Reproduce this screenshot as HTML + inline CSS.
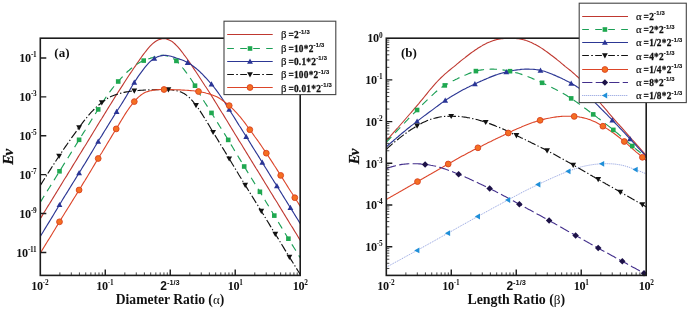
<!DOCTYPE html>
<html><head><meta charset="utf-8"><title>Ev plots</title>
<style>html,body{margin:0;padding:0;background:#fff}svg{display:block}</style></head>
<body>
<svg width="689" height="309" viewBox="0 0 689 309" style="display:block">
<rect width="689" height="309" fill="#fff"/>
<defs>
<clipPath id="ca"><rect x="40.3" y="37.7" width="260.5" height="237.7"/></clipPath>
<clipPath id="cb"><rect x="386.3" y="37.7" width="260.50000000000006" height="237.7"/></clipPath>
</defs>
<path d="M40.3 218.7 L41.6 216.6 L42.9 214.4 L44.2 212.3 L45.5 210.2 L46.8 208.0 L48.1 205.9 L49.5 203.8 L50.8 201.6 L52.1 199.5 L53.4 197.4 L54.7 195.2 L56.0 193.1 L57.3 191.0 L58.6 188.9 L59.9 186.7 L61.2 184.6 L62.5 182.5 L63.8 180.3 L65.1 178.2 L66.5 176.1 L67.8 173.9 L69.1 171.8 L70.4 169.7 L71.7 167.6 L73.0 165.4 L74.3 163.3 L75.6 161.2 L76.9 159.1 L78.2 156.9 L79.5 154.8 L80.8 152.7 L82.1 150.6 L83.4 148.4 L84.8 146.3 L86.1 144.2 L87.4 142.0 L88.7 139.9 L90.0 137.7 L91.3 135.6 L92.6 133.5 L93.9 131.3 L95.2 129.2 L96.5 127.0 L97.8 124.9 L99.1 122.8 L100.4 120.6 L101.8 118.5 L103.1 116.4 L104.4 114.2 L105.7 112.1 L107.0 110.0 L108.3 107.9 L109.6 105.8 L110.9 103.7 L112.2 101.6 L113.5 99.5 L114.8 97.4 L116.1 95.3 L117.4 93.2 L118.8 91.1 L120.1 89.1 L121.4 87.1 L122.7 85.1 L124.0 83.0 L125.3 81.0 L126.6 79.0 L127.9 77.0 L129.2 75.0 L130.5 73.1 L131.8 71.2 L133.1 69.2 L134.4 67.3 L135.8 65.4 L137.1 63.4 L138.4 61.5 L139.7 59.6 L141.0 57.7 L142.3 55.9 L143.6 54.2 L144.9 52.5 L146.2 50.8 L147.5 49.2 L148.8 47.6 L150.1 46.2 L151.4 44.8 L152.7 43.6 L154.1 42.5 L155.4 41.5 L156.7 40.7 L158.0 40.1 L159.3 39.5 L160.6 39.1 L161.9 38.7 L163.2 38.5 L164.5 38.6 L165.8 38.8 L167.1 39.2 L168.4 39.7 L169.7 40.3 L171.1 40.9 L172.4 41.8 L173.7 42.8 L175.0 44.0 L176.3 45.3 L177.6 46.6 L178.9 48.1 L180.2 49.7 L181.5 51.3 L182.8 53.0 L184.1 54.8 L185.4 56.5 L186.7 58.3 L188.1 60.2 L189.4 62.1 L190.7 64.0 L192.0 66.0 L193.3 67.9 L194.6 69.9 L195.9 71.8 L197.2 73.7 L198.5 75.7 L199.8 77.7 L201.1 79.7 L202.4 81.7 L203.7 83.7 L205.0 85.7 L206.4 87.7 L207.7 89.8 L209.0 91.8 L210.3 93.9 L211.6 95.9 L212.9 98.0 L214.2 100.1 L215.5 102.2 L216.8 104.3 L218.1 106.5 L219.4 108.6 L220.7 110.7 L222.0 112.8 L223.4 114.9 L224.7 117.1 L226.0 119.2 L227.3 121.3 L228.6 123.5 L229.9 125.6 L231.2 127.7 L232.5 129.9 L233.8 132.0 L235.1 134.2 L236.4 136.3 L237.7 138.4 L239.0 140.6 L240.4 142.7 L241.7 144.8 L243.0 147.0 L244.3 149.1 L245.6 151.2 L246.9 153.4 L248.2 155.5 L249.5 157.6 L250.8 159.7 L252.1 161.9 L253.4 164.0 L254.7 166.1 L256.0 168.3 L257.4 170.4 L258.7 172.5 L260.0 174.6 L261.3 176.8 L262.6 178.9 L263.9 181.0 L265.2 183.2 L266.5 185.3 L267.8 187.4 L269.1 189.5 L270.4 191.7 L271.7 193.8 L273.0 195.9 L274.3 198.1 L275.7 200.2 L277.0 202.3 L278.3 204.5 L279.6 206.6 L280.9 208.7 L282.2 210.9 L283.5 213.0 L284.8 215.1 L286.1 217.3 L287.4 219.4 L288.7 221.5 L290.0 223.7 L291.3 225.8 L292.7 227.9 L294.0 230.1 L295.3 232.2 L296.6 234.3 L297.9 236.5 L299.2 238.6 L300.5 240.7" fill="none" stroke="#bf3830" stroke-width="1.1" clip-path="url(#ca)"/>
<path d="M40.3 202.3 L41.6 200.1 L42.9 198.0 L44.2 195.9 L45.5 193.8 L46.8 191.7 L48.1 189.6 L49.5 187.5 L50.8 185.4 L52.1 183.3 L53.4 181.2 L54.7 179.1 L56.0 177.0 L57.3 174.9 L58.6 172.8 L59.9 170.7 L61.2 168.6 L62.5 166.5 L63.8 164.4 L65.1 162.3 L66.5 160.2 L67.8 158.1 L69.1 156.0 L70.4 153.9 L71.7 151.8 L73.0 149.7 L74.3 147.6 L75.6 145.5 L76.9 143.4 L78.2 141.3 L79.5 139.2 L80.8 137.1 L82.1 135.0 L83.4 132.9 L84.8 130.8 L86.1 128.7 L87.4 126.6 L88.7 124.5 L90.0 122.4 L91.3 120.3 L92.6 118.2 L93.9 116.1 L95.2 114.1 L96.5 112.0 L97.8 110.0 L99.1 107.9 L100.4 105.8 L101.8 103.7 L103.1 101.6 L104.4 99.6 L105.7 97.6 L107.0 95.8 L108.3 93.9 L109.6 92.1 L110.9 90.4 L112.2 88.7 L113.5 87.0 L114.8 85.4 L116.1 83.8 L117.4 82.3 L118.8 80.8 L120.1 79.4 L121.4 77.9 L122.7 76.5 L124.0 75.1 L125.3 73.8 L126.6 72.5 L127.9 71.3 L129.2 70.2 L130.5 69.0 L131.8 68.0 L133.1 66.9 L134.4 65.9 L135.8 65.0 L137.1 64.1 L138.4 63.2 L139.7 62.5 L141.0 61.8 L142.3 61.2 L143.6 60.6 L144.9 60.1 L146.2 59.7 L147.5 59.2 L148.8 58.8 L150.1 58.4 L151.4 57.9 L152.7 57.5 L154.1 57.0 L155.4 56.5 L156.7 56.1 L158.0 55.9 L159.3 55.6 L160.6 55.4 L161.9 55.3 L163.2 55.3 L164.5 55.5 L165.8 55.7 L167.1 56.0 L168.4 56.3 L169.7 56.8 L171.1 57.5 L172.4 58.1 L173.7 58.9 L175.0 59.8 L176.3 60.8 L177.6 62.0 L178.9 63.4 L180.2 64.8 L181.5 66.3 L182.8 68.0 L184.1 69.6 L185.4 71.4 L186.7 73.1 L188.1 75.0 L189.4 76.8 L190.7 78.8 L192.0 80.8 L193.3 82.9 L194.6 85.0 L195.9 87.2 L197.2 89.5 L198.5 91.8 L199.8 94.1 L201.1 96.4 L202.4 98.6 L203.7 100.7 L205.0 102.8 L206.4 104.9 L207.7 106.9 L209.0 108.9 L210.3 111.0 L211.6 113.1 L212.9 115.2 L214.2 117.3 L215.5 119.4 L216.8 121.5 L218.1 123.6 L219.4 125.7 L220.7 127.8 L222.0 129.9 L223.4 132.0 L224.7 134.1 L226.0 136.3 L227.3 138.4 L228.6 140.5 L229.9 142.7 L231.2 144.9 L232.5 147.0 L233.8 149.2 L235.1 151.4 L236.4 153.6 L237.7 155.7 L239.0 157.9 L240.4 160.1 L241.7 162.3 L243.0 164.4 L244.3 166.6 L245.6 168.7 L246.9 170.9 L248.2 173.0 L249.5 175.1 L250.8 177.2 L252.1 179.3 L253.4 181.4 L254.7 183.5 L256.0 185.6 L257.4 187.7 L258.7 189.8 L260.0 191.9 L261.3 194.0 L262.6 196.2 L263.9 198.3 L265.2 200.5 L266.5 202.7 L267.8 204.8 L269.1 207.0 L270.4 209.2 L271.7 211.3 L273.0 213.5 L274.3 215.7 L275.7 217.8 L277.0 220.0 L278.3 222.1 L279.6 224.3 L280.9 226.4 L282.2 228.6 L283.5 230.7 L284.8 232.9 L286.1 235.0 L287.4 237.2 L288.7 239.3 L290.0 241.4 L291.3 243.5 L292.7 245.6 L294.0 247.7 L295.3 249.8 L296.6 251.9 L297.9 254.0 L299.2 256.1 L300.5 258.2" fill="none" stroke="#1c9f56" stroke-width="1.15" stroke-dasharray="7.5 5.5" clip-path="url(#ca)"/>
<path d="M40.3 236.5 L41.6 234.3 L42.9 232.2 L44.2 230.0 L45.5 227.9 L46.8 225.7 L48.1 223.6 L49.5 221.4 L50.8 219.3 L52.1 217.1 L53.4 215.0 L54.7 212.8 L56.0 210.6 L57.3 208.5 L58.6 206.3 L59.9 204.1 L61.2 202.0 L62.5 199.8 L63.8 197.6 L65.1 195.5 L66.5 193.4 L67.8 191.2 L69.1 189.1 L70.4 187.0 L71.7 184.9 L73.0 182.8 L74.3 180.7 L75.6 178.6 L76.9 176.5 L78.2 174.4 L79.5 172.3 L80.8 170.2 L82.1 168.0 L83.4 165.9 L84.8 163.7 L86.1 161.6 L87.4 159.4 L88.7 157.2 L90.0 155.0 L91.3 152.9 L92.6 150.7 L93.9 148.5 L95.2 146.3 L96.5 144.1 L97.8 142.0 L99.1 139.8 L100.4 137.7 L101.8 135.6 L103.1 133.4 L104.4 131.3 L105.7 129.2 L107.0 127.1 L108.3 125.0 L109.6 122.9 L110.9 120.8 L112.2 118.7 L113.5 116.6 L114.8 114.5 L116.1 112.4 L117.4 110.3 L118.8 108.3 L120.1 106.2 L121.4 104.2 L122.7 102.1 L124.0 100.0 L125.3 97.9 L126.6 95.7 L127.9 93.4 L129.2 91.1 L130.5 88.8 L131.8 86.5 L133.1 84.3 L134.4 82.2 L135.8 80.1 L137.1 78.1 L138.4 76.2 L139.7 74.4 L141.0 72.6 L142.3 70.8 L143.6 69.1 L144.9 67.4 L146.2 65.8 L147.5 64.3 L148.8 62.9 L150.1 61.6 L151.4 60.5 L152.7 59.5 L154.1 58.6 L155.4 57.9 L156.7 57.2 L158.0 56.6 L159.3 56.2 L160.6 55.9 L161.9 55.6 L163.2 55.4 L164.5 55.3 L165.8 55.3 L167.1 55.5 L168.4 55.7 L169.7 56.0 L171.1 56.3 L172.4 56.7 L173.7 57.1 L175.0 57.6 L176.3 58.1 L177.6 58.5 L178.9 58.9 L180.2 59.4 L181.5 59.8 L182.8 60.3 L184.1 60.8 L185.4 61.4 L186.7 62.0 L188.1 62.7 L189.4 63.5 L190.7 64.3 L192.0 65.3 L193.3 66.2 L194.6 67.2 L195.9 68.3 L197.2 69.4 L198.5 70.5 L199.8 71.7 L201.1 73.0 L202.4 74.2 L203.7 75.6 L205.0 77.0 L206.4 78.4 L207.7 79.8 L209.0 81.3 L210.3 82.8 L211.6 84.3 L212.9 85.9 L214.2 87.5 L215.5 89.2 L216.8 90.9 L218.1 92.7 L219.4 94.5 L220.7 96.4 L222.0 98.3 L223.4 100.3 L224.7 102.3 L226.0 104.4 L227.3 106.5 L228.6 108.6 L229.9 110.6 L231.2 112.7 L232.5 114.7 L233.8 116.8 L235.1 118.9 L236.4 121.0 L237.7 123.1 L239.0 125.2 L240.4 127.3 L241.7 129.4 L243.0 131.5 L244.3 133.5 L245.6 135.6 L246.9 137.7 L248.2 139.8 L249.5 141.9 L250.8 144.0 L252.1 146.1 L253.4 148.2 L254.7 150.3 L256.0 152.4 L257.4 154.5 L258.7 156.6 L260.0 158.8 L261.3 160.9 L262.6 163.0 L263.9 165.1 L265.2 167.2 L266.5 169.3 L267.8 171.4 L269.1 173.5 L270.4 175.6 L271.7 177.7 L273.0 179.8 L274.3 181.9 L275.7 184.0 L277.0 186.1 L278.3 188.2 L279.6 190.3 L280.9 192.4 L282.2 194.5 L283.5 196.6 L284.8 198.7 L286.1 200.8 L287.4 202.9 L288.7 205.0 L290.0 207.2 L291.3 209.3 L292.7 211.4 L294.0 213.5 L295.3 215.6 L296.6 217.7 L297.9 219.8 L299.2 221.9 L300.5 224.0" fill="none" stroke="#2c3794" stroke-width="1.15" clip-path="url(#ca)"/>
<path d="M40.3 185.5 L41.6 183.4 L42.9 181.3 L44.2 179.2 L45.5 177.1 L46.8 175.1 L48.1 173.0 L49.5 170.9 L50.8 168.9 L52.1 166.8 L53.4 164.8 L54.7 162.8 L56.0 160.8 L57.3 158.8 L58.6 156.8 L59.9 154.8 L61.2 152.9 L62.5 150.9 L63.8 149.0 L65.1 147.1 L66.5 145.2 L67.8 143.3 L69.1 141.4 L70.4 139.6 L71.7 137.7 L73.0 135.9 L74.3 134.1 L75.6 132.3 L76.9 130.5 L78.2 128.7 L79.5 126.9 L80.8 125.1 L82.1 123.4 L83.4 121.6 L84.8 119.9 L86.1 118.3 L87.4 116.7 L88.7 115.2 L90.0 113.7 L91.3 112.2 L92.6 110.9 L93.9 109.5 L95.2 108.2 L96.5 107.0 L97.8 105.8 L99.1 104.7 L100.4 103.7 L101.8 102.7 L103.1 101.6 L104.4 100.7 L105.7 99.7 L107.0 98.8 L108.3 98.0 L109.6 97.3 L110.9 96.6 L112.2 96.0 L113.5 95.5 L114.8 95.0 L116.1 94.6 L117.4 94.2 L118.8 93.8 L120.1 93.4 L121.4 93.1 L122.7 92.7 L124.0 92.4 L125.3 92.1 L126.6 91.9 L127.9 91.7 L129.2 91.5 L130.5 91.3 L131.8 91.1 L133.1 90.9 L134.4 90.8 L135.8 90.7 L137.1 90.6 L138.4 90.5 L139.7 90.4 L141.0 90.3 L142.3 90.2 L143.6 90.1 L144.9 90.0 L146.2 90.0 L147.5 89.9 L148.8 89.9 L150.1 89.8 L151.4 89.8 L152.7 89.7 L154.1 89.7 L155.4 89.6 L156.7 89.6 L158.0 89.6 L159.3 89.5 L160.6 89.5 L161.9 89.5 L163.2 89.5 L164.5 89.5 L165.8 89.5 L167.1 89.6 L168.4 89.6 L169.7 89.7 L171.1 89.8 L172.4 90.0 L173.7 90.2 L175.0 90.4 L176.3 90.6 L177.6 91.0 L178.9 91.3 L180.2 91.8 L181.5 92.3 L182.8 92.9 L184.1 93.6 L185.4 94.4 L186.7 95.4 L188.1 96.4 L189.4 97.6 L190.7 99.0 L192.0 100.4 L193.3 101.9 L194.6 103.5 L195.9 105.2 L197.2 106.9 L198.5 108.7 L199.8 110.6 L201.1 112.6 L202.4 114.6 L203.7 116.7 L205.0 118.8 L206.4 121.0 L207.7 123.1 L209.0 125.3 L210.3 127.5 L211.6 129.7 L212.9 131.8 L214.2 134.0 L215.5 136.1 L216.8 138.3 L218.1 140.4 L219.4 142.6 L220.7 144.7 L222.0 146.9 L223.4 149.1 L224.7 151.2 L226.0 153.4 L227.3 155.5 L228.6 157.7 L229.9 159.8 L231.2 162.0 L232.5 164.2 L233.8 166.3 L235.1 168.5 L236.4 170.7 L237.7 172.8 L239.0 175.0 L240.4 177.2 L241.7 179.3 L243.0 181.5 L244.3 183.6 L245.6 185.8 L246.9 187.9 L248.2 190.0 L249.5 192.1 L250.8 194.2 L252.1 196.3 L253.4 198.4 L254.7 200.5 L256.0 202.6 L257.4 204.7 L258.7 206.9 L260.0 209.0 L261.3 211.1 L262.6 213.2 L263.9 215.3 L265.2 217.5 L266.5 219.6 L267.8 221.8 L269.1 223.9 L270.4 226.1 L271.7 228.2 L273.0 230.4 L274.3 232.5 L275.7 234.7 L277.0 236.8 L278.3 238.9 L279.6 241.0 L280.9 243.2 L282.2 245.3 L283.5 247.4 L284.8 249.6 L286.1 251.7 L287.4 253.8 L288.7 255.9 L290.0 258.0 L291.3 260.1 L292.7 262.3 L294.0 264.4 L295.3 266.5 L296.6 268.6 L297.9 270.7 L299.2 272.8 L300.5 274.9" fill="none" stroke="#111111" stroke-width="1.15" stroke-dasharray="8.5 2.2 1.3 2.2" clip-path="url(#ca)"/>
<path d="M40.3 253.1 L41.6 251.0 L42.9 248.9 L44.2 246.7 L45.5 244.6 L46.8 242.5 L48.1 240.4 L49.5 238.2 L50.8 236.1 L52.1 234.0 L53.4 231.8 L54.7 229.7 L56.0 227.5 L57.3 225.4 L58.6 223.2 L59.9 221.1 L61.2 218.9 L62.5 216.8 L63.8 214.7 L65.1 212.5 L66.5 210.4 L67.8 208.3 L69.1 206.2 L70.4 204.1 L71.7 202.0 L73.0 199.9 L74.3 197.8 L75.6 195.7 L76.9 193.6 L78.2 191.4 L79.5 189.3 L80.8 187.2 L82.1 185.1 L83.4 182.9 L84.8 180.8 L86.1 178.6 L87.4 176.5 L88.7 174.3 L90.0 172.1 L91.3 170.0 L92.6 167.8 L93.9 165.6 L95.2 163.4 L96.5 161.3 L97.8 159.1 L99.1 157.0 L100.4 154.8 L101.8 152.7 L103.1 150.5 L104.4 148.4 L105.7 146.2 L107.0 144.0 L108.3 141.9 L109.6 139.7 L110.9 137.6 L112.2 135.4 L113.5 133.3 L114.8 131.1 L116.1 129.0 L117.4 126.8 L118.8 124.6 L120.1 122.4 L121.4 120.2 L122.7 118.1 L124.0 116.0 L125.3 113.9 L126.6 111.9 L127.9 110.0 L129.2 108.1 L130.5 106.3 L131.8 104.6 L133.1 103.0 L134.4 101.4 L135.8 99.9 L137.1 98.5 L138.4 97.2 L139.7 96.1 L141.0 95.0 L142.3 94.1 L143.6 93.3 L144.9 92.6 L146.2 92.1 L147.5 91.6 L148.8 91.2 L150.1 90.8 L151.4 90.6 L152.7 90.3 L154.1 90.1 L155.4 89.9 L156.7 89.7 L158.0 89.6 L159.3 89.6 L160.6 89.5 L161.9 89.5 L163.2 89.5 L164.5 89.5 L165.8 89.5 L167.1 89.5 L168.4 89.5 L169.7 89.6 L171.1 89.6 L172.4 89.6 L173.7 89.7 L175.0 89.7 L176.3 89.8 L177.6 89.8 L178.9 89.9 L180.2 89.9 L181.5 90.0 L182.8 90.1 L184.1 90.1 L185.4 90.2 L186.7 90.3 L188.1 90.4 L189.4 90.5 L190.7 90.6 L192.0 90.7 L193.3 90.8 L194.6 91.0 L195.9 91.1 L197.2 91.3 L198.5 91.5 L199.8 91.7 L201.1 92.0 L202.4 92.2 L203.7 92.5 L205.0 92.8 L206.4 93.2 L207.7 93.5 L209.0 93.9 L210.3 94.3 L211.6 94.7 L212.9 95.2 L214.2 95.7 L215.5 96.2 L216.8 96.8 L218.1 97.5 L219.4 98.3 L220.7 99.1 L222.0 100.0 L223.4 101.0 L224.7 102.0 L226.0 103.0 L227.3 104.0 L228.6 105.1 L229.9 106.2 L231.2 107.4 L232.5 108.6 L233.8 109.9 L235.1 111.3 L236.4 112.7 L237.7 114.2 L239.0 115.7 L240.4 117.2 L241.7 118.8 L243.0 120.5 L244.3 122.2 L245.6 123.9 L246.9 125.7 L248.2 127.5 L249.5 129.3 L250.8 131.0 L252.1 132.8 L253.4 134.6 L254.7 136.5 L256.0 138.3 L257.4 140.2 L258.7 142.0 L260.0 143.9 L261.3 145.8 L262.6 147.7 L263.9 149.6 L265.2 151.6 L266.5 153.5 L267.8 155.5 L269.1 157.4 L270.4 159.4 L271.7 161.4 L273.0 163.4 L274.3 165.5 L275.7 167.5 L277.0 169.6 L278.3 171.6 L279.6 173.7 L280.9 175.7 L282.2 177.8 L283.5 179.9 L284.8 182.0 L286.1 184.0 L287.4 186.1 L288.7 188.2 L290.0 190.2 L291.3 192.3 L292.7 194.3 L294.0 196.4 L295.3 198.4 L296.6 200.5 L297.9 202.5 L299.2 204.6 L300.5 206.6" fill="none" stroke="#dc4529" stroke-width="1.1" clip-path="url(#ca)"/>
<g><rect x="57.2" y="169.0" width="4.6" height="4.6" fill="#1fa850"/><rect x="76.8" y="137.5" width="4.6" height="4.6" fill="#1fa850"/><rect x="95.9" y="107.1" width="4.6" height="4.6" fill="#1fa850"/><rect x="115.9" y="79.2" width="4.6" height="4.6" fill="#1fa850"/><rect x="141.4" y="58.3" width="4.6" height="4.6" fill="#1fa850"/><rect x="174.1" y="58.6" width="4.6" height="4.6" fill="#1fa850"/><rect x="192.7" y="83.4" width="4.6" height="4.6" fill="#1fa850"/><rect x="209.2" y="110.6" width="4.6" height="4.6" fill="#1fa850"/><rect x="225.9" y="137.6" width="4.6" height="4.6" fill="#1fa850"/><rect x="241.9" y="164.2" width="4.6" height="4.6" fill="#1fa850"/><rect x="257.6" y="189.5" width="4.6" height="4.6" fill="#1fa850"/><rect x="272.0" y="213.3" width="4.6" height="4.6" fill="#1fa850"/><rect x="286.1" y="236.4" width="4.6" height="4.6" fill="#1fa850"/></g>
<g><path d="M59.5 201.9 L62.4 207.1 L56.6 207.1Z" fill="#2a3596"/><path d="M79.1 170.1 L82.0 175.3 L76.2 175.3Z" fill="#2a3596"/><path d="M98.2 138.5 L101.1 143.7 L95.3 143.7Z" fill="#2a3596"/><path d="M116.6 108.8 L119.5 114.0 L113.7 114.0Z" fill="#2a3596"/><path d="M134.3 79.5 L137.2 84.7 L131.4 84.7Z" fill="#2a3596"/><path d="M154.3 55.6 L157.2 60.8 L151.4 60.8Z" fill="#2a3596"/><path d="M187.7 59.6 L190.6 64.9 L184.8 64.9Z" fill="#2a3596"/><path d="M211.5 81.3 L214.4 86.5 L208.6 86.5Z" fill="#2a3596"/><path d="M229.2 106.6 L232.1 111.8 L226.3 111.8Z" fill="#2a3596"/><path d="M246.2 133.7 L249.1 139.0 L243.3 139.0Z" fill="#2a3596"/><path d="M262.3 159.6 L265.2 164.8 L259.4 164.8Z" fill="#2a3596"/><path d="M276.9 183.1 L279.8 188.3 L274.0 188.3Z" fill="#2a3596"/><path d="M290.4 204.8 L293.3 210.1 L287.5 210.1Z" fill="#2a3596"/></g>
<g><path d="M59.1 158.9 L62.0 153.7 L56.2 153.7Z" fill="#111111"/><path d="M79.1 130.4 L82.0 125.2 L76.2 125.2Z" fill="#111111"/><path d="M101.8 105.5 L104.7 100.3 L98.9 100.3Z" fill="#111111"/><path d="M134.3 93.7 L137.2 88.5 L131.4 88.5Z" fill="#111111"/><path d="M168.4 92.5 L171.3 87.3 L165.5 87.3Z" fill="#111111"/><path d="M196.0 108.2 L198.9 103.0 L193.1 103.0Z" fill="#111111"/><path d="M213.1 135.1 L216.0 129.9 L210.2 129.9Z" fill="#111111"/><path d="M229.2 161.6 L232.1 156.4 L226.3 156.4Z" fill="#111111"/><path d="M245.2 188.0 L248.1 182.8 L242.3 182.8Z" fill="#111111"/><path d="M261.3 214.0 L264.2 208.8 L258.4 208.8Z" fill="#111111"/><path d="M275.3 237.0 L278.2 231.8 L272.4 231.8Z" fill="#111111"/><path d="M289.4 259.9 L292.3 254.7 L286.5 254.7Z" fill="#111111"/></g>
<g><circle cx="59.5" cy="221.8" r="2.9" fill="#f46f22" stroke="#d9421f" stroke-width="0.9"/><circle cx="79.1" cy="190.0" r="2.9" fill="#f46f22" stroke="#d9421f" stroke-width="0.9"/><circle cx="98.2" cy="158.5" r="2.9" fill="#f46f22" stroke="#d9421f" stroke-width="0.9"/><circle cx="116.2" cy="128.9" r="2.9" fill="#f46f22" stroke="#d9421f" stroke-width="0.9"/><circle cx="134.3" cy="101.6" r="2.9" fill="#f46f22" stroke="#d9421f" stroke-width="0.9"/><circle cx="164.0" cy="89.5" r="2.9" fill="#f46f22" stroke="#d9421f" stroke-width="0.9"/><circle cx="198.5" cy="91.5" r="2.9" fill="#f46f22" stroke="#d9421f" stroke-width="0.9"/><circle cx="229.2" cy="105.6" r="2.9" fill="#f46f22" stroke="#d9421f" stroke-width="0.9"/><circle cx="249.8" cy="129.7" r="2.9" fill="#f46f22" stroke="#d9421f" stroke-width="0.9"/><circle cx="266.3" cy="153.2" r="2.9" fill="#f46f22" stroke="#d9421f" stroke-width="0.9"/><circle cx="280.7" cy="175.4" r="2.9" fill="#f46f22" stroke="#d9421f" stroke-width="0.9"/><circle cx="294.8" cy="197.7" r="2.9" fill="#f46f22" stroke="#d9421f" stroke-width="0.9"/></g>
<path d="M386.3 140.7 L387.6 139.2 L388.9 137.8 L390.2 136.3 L391.5 134.8 L392.8 133.4 L394.1 131.9 L395.5 130.4 L396.8 128.9 L398.1 127.5 L399.4 126.0 L400.7 124.5 L402.0 123.0 L403.3 121.5 L404.6 120.0 L405.9 118.5 L407.2 117.0 L408.5 115.5 L409.8 114.0 L411.1 112.5 L412.5 111.0 L413.8 109.4 L415.1 107.9 L416.4 106.4 L417.7 104.8 L419.0 103.3 L420.3 101.7 L421.6 100.2 L422.9 98.6 L424.2 97.0 L425.5 95.4 L426.8 93.8 L428.1 92.2 L429.4 90.5 L430.8 88.9 L432.1 87.4 L433.4 85.8 L434.7 84.3 L436.0 82.9 L437.3 81.5 L438.6 80.1 L439.9 78.8 L441.2 77.5 L442.5 76.3 L443.8 75.1 L445.1 73.9 L446.4 72.8 L447.8 71.6 L449.1 70.5 L450.4 69.5 L451.7 68.4 L453.0 67.4 L454.3 66.4 L455.6 65.3 L456.9 64.2 L458.2 63.1 L459.5 62.0 L460.8 60.9 L462.1 59.9 L463.4 58.9 L464.8 57.9 L466.1 56.8 L467.4 55.8 L468.7 54.8 L470.0 53.8 L471.3 52.8 L472.6 51.9 L473.9 51.0 L475.2 50.0 L476.5 49.2 L477.8 48.3 L479.1 47.5 L480.4 46.7 L481.8 45.9 L483.1 45.1 L484.4 44.4 L485.7 43.8 L487.0 43.1 L488.3 42.5 L489.6 42.0 L490.9 41.4 L492.2 40.9 L493.5 40.5 L494.8 40.1 L496.1 39.7 L497.4 39.4 L498.7 39.2 L500.1 38.9 L501.4 38.8 L502.7 38.6 L504.0 38.5 L505.3 38.4 L506.6 38.3 L507.9 38.2 L509.2 38.2 L510.5 38.2 L511.8 38.2 L513.1 38.3 L514.4 38.4 L515.7 38.5 L517.1 38.6 L518.4 38.8 L519.7 39.0 L521.0 39.2 L522.3 39.5 L523.6 39.8 L524.9 40.1 L526.2 40.6 L527.5 41.0 L528.8 41.5 L530.1 42.1 L531.4 42.6 L532.7 43.2 L534.1 43.9 L535.4 44.5 L536.7 45.3 L538.0 46.0 L539.3 46.8 L540.6 47.6 L541.9 48.4 L543.2 49.3 L544.5 50.2 L545.8 51.1 L547.1 52.0 L548.4 53.0 L549.7 54.0 L551.0 55.0 L552.4 56.0 L553.7 57.0 L555.0 58.0 L556.3 59.0 L557.6 60.1 L558.9 61.1 L560.2 62.2 L561.5 63.3 L562.8 64.4 L564.1 65.5 L565.4 66.6 L566.7 67.6 L568.0 68.6 L569.4 69.7 L570.7 70.7 L572.0 71.8 L573.3 73.0 L574.6 74.1 L575.9 75.3 L577.2 76.5 L578.5 77.7 L579.8 79.0 L581.1 80.3 L582.4 81.7 L583.7 83.1 L585.0 84.6 L586.4 86.1 L587.7 87.6 L589.0 89.2 L590.3 90.8 L591.6 92.4 L592.9 94.1 L594.2 95.7 L595.5 97.3 L596.8 98.9 L598.1 100.4 L599.4 102.0 L600.7 103.5 L602.0 105.1 L603.4 106.6 L604.7 108.2 L606.0 109.7 L607.3 111.2 L608.6 112.8 L609.9 114.3 L611.2 115.8 L612.5 117.3 L613.8 118.8 L615.1 120.3 L616.4 121.8 L617.7 123.3 L619.0 124.7 L620.3 126.2 L621.7 127.7 L623.0 129.2 L624.3 130.7 L625.6 132.1 L626.9 133.6 L628.2 135.1 L629.5 136.6 L630.8 138.0 L632.1 139.5 L633.4 140.9 L634.7 142.4 L636.0 143.9 L637.3 145.4 L638.7 146.9 L640.0 148.3 L641.3 149.8 L642.6 151.3 L643.9 152.8 L645.2 154.3 L646.5 155.8" fill="none" stroke="#bf3830" stroke-width="1.1" clip-path="url(#cb)"/>
<path d="M386.3 142.4 L387.6 140.9 L388.9 139.5 L390.2 138.1 L391.5 136.7 L392.8 135.2 L394.1 133.8 L395.5 132.4 L396.8 131.0 L398.1 129.6 L399.4 128.3 L400.7 126.9 L402.0 125.5 L403.3 124.1 L404.6 122.8 L405.9 121.4 L407.2 120.1 L408.5 118.7 L409.8 117.4 L411.1 116.0 L412.5 114.7 L413.8 113.4 L415.1 112.1 L416.4 110.8 L417.7 109.4 L419.0 108.1 L420.3 106.8 L421.6 105.5 L422.9 104.2 L424.2 102.9 L425.5 101.6 L426.8 100.3 L428.1 99.0 L429.4 97.8 L430.8 96.5 L432.1 95.3 L433.4 94.1 L434.7 92.9 L436.0 91.8 L437.3 90.7 L438.6 89.6 L439.9 88.6 L441.2 87.7 L442.5 86.8 L443.8 86.0 L445.1 85.2 L446.4 84.4 L447.8 83.7 L449.1 82.9 L450.4 82.2 L451.7 81.5 L453.0 80.8 L454.3 80.2 L455.6 79.5 L456.9 78.9 L458.2 78.2 L459.5 77.6 L460.8 77.0 L462.1 76.5 L463.4 75.9 L464.8 75.3 L466.1 74.8 L467.4 74.2 L468.7 73.6 L470.0 73.1 L471.3 72.6 L472.6 72.1 L473.9 71.7 L475.2 71.3 L476.5 70.9 L477.8 70.6 L479.1 70.3 L480.4 70.1 L481.8 69.9 L483.1 69.7 L484.4 69.5 L485.7 69.4 L487.0 69.3 L488.3 69.2 L489.6 69.2 L490.9 69.1 L492.2 69.1 L493.5 69.1 L494.8 69.2 L496.1 69.2 L497.4 69.3 L498.7 69.5 L500.1 69.6 L501.4 69.7 L502.7 69.9 L504.0 70.1 L505.3 70.3 L506.6 70.5 L507.9 70.8 L509.2 71.1 L510.5 71.3 L511.8 71.6 L513.1 71.9 L514.4 72.2 L515.7 72.6 L517.1 72.9 L518.4 73.3 L519.7 73.7 L521.0 74.1 L522.3 74.6 L523.6 75.0 L524.9 75.5 L526.2 76.0 L527.5 76.5 L528.8 77.0 L530.1 77.5 L531.4 78.0 L532.7 78.6 L534.1 79.2 L535.4 79.7 L536.7 80.3 L538.0 80.9 L539.3 81.5 L540.6 82.1 L541.9 82.7 L543.2 83.3 L544.5 83.9 L545.8 84.6 L547.1 85.2 L548.4 85.8 L549.7 86.4 L551.0 87.1 L552.4 87.7 L553.7 88.4 L555.0 89.1 L556.3 89.7 L557.6 90.4 L558.9 91.1 L560.2 91.8 L561.5 92.6 L562.8 93.3 L564.1 94.0 L565.4 94.8 L566.7 95.6 L568.0 96.4 L569.4 97.2 L570.7 98.0 L572.0 98.9 L573.3 99.8 L574.6 100.7 L575.9 101.6 L577.2 102.5 L578.5 103.5 L579.8 104.4 L581.1 105.4 L582.4 106.3 L583.7 107.3 L585.0 108.3 L586.4 109.3 L587.7 110.3 L589.0 111.2 L590.3 112.2 L591.6 113.2 L592.9 114.2 L594.2 115.1 L595.5 116.1 L596.8 117.1 L598.1 118.1 L599.4 119.0 L600.7 120.0 L602.0 121.0 L603.4 122.0 L604.7 123.0 L606.0 124.1 L607.3 125.1 L608.6 126.1 L609.9 127.1 L611.2 128.2 L612.5 129.2 L613.8 130.3 L615.1 131.4 L616.4 132.4 L617.7 133.5 L619.0 134.6 L620.3 135.7 L621.7 136.8 L623.0 138.0 L624.3 139.1 L625.6 140.2 L626.9 141.3 L628.2 142.5 L629.5 143.6 L630.8 144.7 L632.1 145.9 L633.4 147.0 L634.7 148.1 L636.0 149.1 L637.3 150.2 L638.7 151.3 L640.0 152.4 L641.3 153.4 L642.6 154.5 L643.9 155.6 L645.2 156.6 L646.5 157.7" fill="none" stroke="#1c9f56" stroke-width="1.15" stroke-dasharray="7.5 5.5" clip-path="url(#cb)"/>
<path d="M386.3 146.8 L387.6 145.7 L388.9 144.5 L390.2 143.4 L391.5 142.3 L392.8 141.2 L394.1 140.0 L395.5 138.9 L396.8 137.8 L398.1 136.7 L399.4 135.5 L400.7 134.4 L402.0 133.3 L403.3 132.2 L404.6 131.2 L405.9 130.1 L407.2 129.0 L408.5 128.0 L409.8 127.0 L411.1 125.9 L412.5 124.9 L413.8 123.9 L415.1 122.9 L416.4 121.9 L417.7 120.9 L419.0 119.9 L420.3 118.9 L421.6 117.9 L422.9 116.9 L424.2 115.9 L425.5 115.0 L426.8 114.0 L428.1 113.0 L429.4 112.0 L430.8 111.1 L432.1 110.1 L433.4 109.1 L434.7 108.1 L436.0 107.1 L437.3 106.2 L438.6 105.2 L439.9 104.3 L441.2 103.3 L442.5 102.4 L443.8 101.5 L445.1 100.5 L446.4 99.6 L447.8 98.8 L449.1 97.9 L450.4 97.1 L451.7 96.2 L453.0 95.4 L454.3 94.7 L455.6 93.9 L456.9 93.2 L458.2 92.4 L459.5 91.7 L460.8 91.0 L462.1 90.3 L463.4 89.6 L464.8 88.9 L466.1 88.3 L467.4 87.6 L468.7 87.0 L470.0 86.3 L471.3 85.7 L472.6 85.1 L473.9 84.4 L475.2 83.8 L476.5 83.2 L477.8 82.6 L479.1 82.0 L480.4 81.4 L481.8 80.8 L483.1 80.2 L484.4 79.6 L485.7 79.1 L487.0 78.5 L488.3 78.0 L489.6 77.4 L490.9 76.9 L492.2 76.4 L493.5 75.9 L494.8 75.4 L496.1 74.9 L497.4 74.5 L498.7 74.0 L500.1 73.6 L501.4 73.2 L502.7 72.9 L504.0 72.5 L505.3 72.2 L506.6 71.9 L507.9 71.6 L509.2 71.3 L510.5 71.0 L511.8 70.8 L513.1 70.5 L514.4 70.3 L515.7 70.1 L517.1 69.9 L518.4 69.7 L519.7 69.6 L521.0 69.4 L522.3 69.3 L523.6 69.2 L524.9 69.1 L526.2 69.1 L527.5 69.1 L528.8 69.1 L530.1 69.2 L531.4 69.2 L532.7 69.3 L534.1 69.4 L535.4 69.5 L536.7 69.7 L538.0 69.9 L539.3 70.1 L540.6 70.4 L541.9 70.7 L543.2 71.0 L544.5 71.3 L545.8 71.8 L547.1 72.2 L548.4 72.7 L549.7 73.2 L551.0 73.7 L552.4 74.3 L553.7 74.9 L555.0 75.4 L556.3 76.0 L557.6 76.6 L558.9 77.1 L560.2 77.7 L561.5 78.3 L562.8 79.0 L564.1 79.6 L565.4 80.3 L566.7 80.9 L568.0 81.6 L569.4 82.3 L570.7 83.1 L572.0 83.8 L573.3 84.5 L574.6 85.3 L575.9 86.1 L577.2 86.9 L578.5 87.8 L579.8 88.8 L581.1 89.8 L582.4 90.9 L583.7 92.0 L585.0 93.1 L586.4 94.3 L587.7 95.5 L589.0 96.8 L590.3 98.0 L591.6 99.3 L592.9 100.5 L594.2 101.8 L595.5 103.1 L596.8 104.4 L598.1 105.7 L599.4 107.0 L600.7 108.3 L602.0 109.7 L603.4 111.0 L604.7 112.3 L606.0 113.6 L607.3 114.9 L608.6 116.3 L609.9 117.6 L611.2 118.9 L612.5 120.3 L613.8 121.6 L615.1 123.0 L616.4 124.4 L617.7 125.7 L619.0 127.1 L620.3 128.5 L621.7 129.9 L623.0 131.3 L624.3 132.7 L625.6 134.1 L626.9 135.5 L628.2 136.9 L629.5 138.3 L630.8 139.7 L632.1 141.2 L633.4 142.6 L634.7 144.0 L636.0 145.4 L637.3 146.8 L638.7 148.3 L640.0 149.7 L641.3 151.1 L642.6 152.5 L643.9 153.9 L645.2 155.4 L646.5 156.8" fill="none" stroke="#2c3794" stroke-width="1.15" clip-path="url(#cb)"/>
<path d="M386.3 149.3 L387.6 148.1 L388.9 146.9 L390.2 145.8 L391.5 144.6 L392.8 143.5 L394.1 142.4 L395.5 141.3 L396.8 140.2 L398.1 139.2 L399.4 138.1 L400.7 137.1 L402.0 136.1 L403.3 135.1 L404.6 134.1 L405.9 133.2 L407.2 132.3 L408.5 131.3 L409.8 130.5 L411.1 129.6 L412.5 128.8 L413.8 127.9 L415.1 127.1 L416.4 126.4 L417.7 125.6 L419.0 124.8 L420.3 124.1 L421.6 123.3 L422.9 122.6 L424.2 122.0 L425.5 121.4 L426.8 120.8 L428.1 120.3 L429.4 119.8 L430.8 119.3 L432.1 118.9 L433.4 118.5 L434.7 118.2 L436.0 117.9 L437.3 117.6 L438.6 117.3 L439.9 117.0 L441.2 116.8 L442.5 116.6 L443.8 116.5 L445.1 116.4 L446.4 116.3 L447.8 116.3 L449.1 116.2 L450.4 116.2 L451.7 116.2 L453.0 116.2 L454.3 116.3 L455.6 116.3 L456.9 116.4 L458.2 116.4 L459.5 116.5 L460.8 116.7 L462.1 116.8 L463.4 117.0 L464.8 117.1 L466.1 117.3 L467.4 117.6 L468.7 117.8 L470.0 118.0 L471.3 118.3 L472.6 118.6 L473.9 118.9 L475.2 119.2 L476.5 119.5 L477.8 119.8 L479.1 120.2 L480.4 120.6 L481.8 121.0 L483.1 121.4 L484.4 121.8 L485.7 122.2 L487.0 122.6 L488.3 123.1 L489.6 123.6 L490.9 124.1 L492.2 124.6 L493.5 125.1 L494.8 125.6 L496.1 126.2 L497.4 126.7 L498.7 127.2 L500.1 127.8 L501.4 128.4 L502.7 128.9 L504.0 129.5 L505.3 130.1 L506.6 130.8 L507.9 131.4 L509.2 132.0 L510.5 132.6 L511.8 133.3 L513.1 133.9 L514.4 134.5 L515.7 135.2 L517.1 135.8 L518.4 136.4 L519.7 137.0 L521.0 137.7 L522.3 138.3 L523.6 138.9 L524.9 139.6 L526.2 140.2 L527.5 140.8 L528.8 141.5 L530.1 142.1 L531.4 142.8 L532.7 143.4 L534.1 144.0 L535.4 144.7 L536.7 145.3 L538.0 146.0 L539.3 146.6 L540.6 147.3 L541.9 147.9 L543.2 148.6 L544.5 149.3 L545.8 149.9 L547.1 150.6 L548.4 151.3 L549.7 152.0 L551.0 152.7 L552.4 153.4 L553.7 154.1 L555.0 154.8 L556.3 155.5 L557.6 156.2 L558.9 156.9 L560.2 157.7 L561.5 158.4 L562.8 159.1 L564.1 159.9 L565.4 160.6 L566.7 161.3 L568.0 162.1 L569.4 162.8 L570.7 163.6 L572.0 164.3 L573.3 165.1 L574.6 165.8 L575.9 166.6 L577.2 167.3 L578.5 168.1 L579.8 168.8 L581.1 169.6 L582.4 170.3 L583.7 171.1 L585.0 171.8 L586.4 172.6 L587.7 173.3 L589.0 174.1 L590.3 174.9 L591.6 175.6 L592.9 176.4 L594.2 177.1 L595.5 177.9 L596.8 178.6 L598.1 179.4 L599.4 180.1 L600.7 180.9 L602.0 181.6 L603.4 182.4 L604.7 183.1 L606.0 183.9 L607.3 184.6 L608.6 185.4 L609.9 186.1 L611.2 186.9 L612.5 187.6 L613.8 188.3 L615.1 189.1 L616.4 189.8 L617.7 190.6 L619.0 191.3 L620.3 192.1 L621.7 192.8 L623.0 193.6 L624.3 194.3 L625.6 195.1 L626.9 195.8 L628.2 196.5 L629.5 197.3 L630.8 198.0 L632.1 198.8 L633.4 199.5 L634.7 200.3 L636.0 201.0 L637.3 201.8 L638.7 202.5 L640.0 203.3 L641.3 204.0 L642.6 204.8 L643.9 205.5 L645.2 206.3 L646.5 207.0" fill="none" stroke="#111111" stroke-width="1.15" stroke-dasharray="8.5 2.2 1.3 2.2" clip-path="url(#cb)"/>
<path d="M386.3 199.4 L387.6 198.7 L388.9 197.9 L390.2 197.2 L391.5 196.4 L392.8 195.7 L394.1 194.9 L395.5 194.2 L396.8 193.4 L398.1 192.7 L399.4 191.9 L400.7 191.2 L402.0 190.5 L403.3 189.7 L404.6 189.0 L405.9 188.2 L407.2 187.5 L408.5 186.7 L409.8 186.0 L411.1 185.2 L412.5 184.5 L413.8 183.7 L415.1 183.0 L416.4 182.2 L417.7 181.5 L419.0 180.7 L420.3 180.0 L421.6 179.2 L422.9 178.5 L424.2 177.7 L425.5 177.0 L426.8 176.2 L428.1 175.5 L429.4 174.7 L430.8 174.0 L432.1 173.2 L433.4 172.5 L434.7 171.7 L436.0 171.0 L437.3 170.2 L438.6 169.5 L439.9 168.7 L441.2 167.9 L442.5 167.2 L443.8 166.4 L445.1 165.7 L446.4 165.0 L447.8 164.2 L449.1 163.5 L450.4 162.7 L451.7 162.0 L453.0 161.2 L454.3 160.5 L455.6 159.7 L456.9 159.0 L458.2 158.3 L459.5 157.5 L460.8 156.8 L462.1 156.1 L463.4 155.4 L464.8 154.7 L466.1 154.0 L467.4 153.3 L468.7 152.6 L470.0 151.9 L471.3 151.2 L472.6 150.5 L473.9 149.8 L475.2 149.2 L476.5 148.5 L477.8 147.8 L479.1 147.2 L480.4 146.5 L481.8 145.9 L483.1 145.2 L484.4 144.6 L485.7 143.9 L487.0 143.3 L488.3 142.6 L489.6 142.0 L490.9 141.4 L492.2 140.7 L493.5 140.1 L494.8 139.5 L496.1 138.8 L497.4 138.2 L498.7 137.6 L500.1 136.9 L501.4 136.3 L502.7 135.7 L504.0 135.0 L505.3 134.4 L506.6 133.8 L507.9 133.1 L509.2 132.5 L510.5 131.9 L511.8 131.3 L513.1 130.6 L514.4 130.0 L515.7 129.4 L517.1 128.8 L518.4 128.3 L519.7 127.7 L521.0 127.2 L522.3 126.6 L523.6 126.1 L524.9 125.5 L526.2 125.0 L527.5 124.5 L528.8 124.0 L530.1 123.5 L531.4 123.0 L532.7 122.6 L534.1 122.1 L535.4 121.7 L536.7 121.3 L538.0 120.9 L539.3 120.5 L540.6 120.1 L541.9 119.8 L543.2 119.4 L544.5 119.1 L545.8 118.8 L547.1 118.5 L548.4 118.2 L549.7 118.0 L551.0 117.7 L552.4 117.5 L553.7 117.3 L555.0 117.1 L556.3 116.9 L557.6 116.8 L558.9 116.6 L560.2 116.5 L561.5 116.4 L562.8 116.3 L564.1 116.3 L565.4 116.3 L566.7 116.2 L568.0 116.2 L569.4 116.2 L570.7 116.2 L572.0 116.3 L573.3 116.3 L574.6 116.4 L575.9 116.5 L577.2 116.7 L578.5 116.8 L579.8 117.1 L581.1 117.3 L582.4 117.6 L583.7 117.9 L585.0 118.2 L586.4 118.5 L587.7 118.9 L589.0 119.4 L590.3 119.8 L591.6 120.4 L592.9 120.9 L594.2 121.5 L595.5 122.1 L596.8 122.8 L598.1 123.5 L599.4 124.2 L600.7 125.0 L602.0 125.7 L603.4 126.5 L604.7 127.3 L606.0 128.1 L607.3 128.9 L608.6 129.7 L609.9 130.6 L611.2 131.5 L612.5 132.4 L613.8 133.3 L615.1 134.3 L616.4 135.3 L617.7 136.3 L619.0 137.3 L620.3 138.3 L621.7 139.4 L623.0 140.4 L624.3 141.5 L625.6 142.6 L626.9 143.7 L628.2 144.8 L629.5 146.0 L630.8 147.1 L632.1 148.3 L633.4 149.5 L634.7 150.6 L636.0 151.8 L637.3 152.9 L638.7 154.0 L640.0 155.2 L641.3 156.3 L642.6 157.5 L643.9 158.6 L645.2 159.7 L646.5 160.9" fill="none" stroke="#dc4529" stroke-width="1.1" clip-path="url(#cb)"/>
<path d="M386.3 168.8 L387.6 168.3 L388.9 167.8 L390.2 167.3 L391.5 166.9 L392.8 166.5 L394.1 166.1 L395.5 165.8 L396.8 165.4 L398.1 165.1 L399.4 164.9 L400.7 164.6 L402.0 164.4 L403.3 164.3 L404.6 164.1 L405.9 164.0 L407.2 163.9 L408.5 163.8 L409.8 163.8 L411.1 163.7 L412.5 163.7 L413.8 163.7 L415.1 163.7 L416.4 163.8 L417.7 163.8 L419.0 163.9 L420.3 163.9 L421.6 164.1 L422.9 164.2 L424.2 164.3 L425.5 164.5 L426.8 164.6 L428.1 164.8 L429.4 165.0 L430.8 165.3 L432.1 165.5 L433.4 165.8 L434.7 166.0 L436.0 166.3 L437.3 166.6 L438.6 167.0 L439.9 167.4 L441.2 167.8 L442.5 168.2 L443.8 168.6 L445.1 169.0 L446.4 169.5 L447.8 170.0 L449.1 170.4 L450.4 170.9 L451.7 171.4 L453.0 171.9 L454.3 172.4 L455.6 173.0 L456.9 173.5 L458.2 174.0 L459.5 174.6 L460.8 175.1 L462.1 175.7 L463.4 176.3 L464.8 176.8 L466.1 177.4 L467.4 178.0 L468.7 178.6 L470.0 179.2 L471.3 179.8 L472.6 180.4 L473.9 181.0 L475.2 181.6 L476.5 182.2 L477.8 182.8 L479.1 183.4 L480.4 184.1 L481.8 184.7 L483.1 185.3 L484.4 185.9 L485.7 186.6 L487.0 187.2 L488.3 187.8 L489.6 188.5 L490.9 189.1 L492.2 189.8 L493.5 190.4 L494.8 191.1 L496.1 191.8 L497.4 192.4 L498.7 193.1 L500.1 193.8 L501.4 194.5 L502.7 195.2 L504.0 195.9 L505.3 196.6 L506.6 197.3 L507.9 198.0 L509.2 198.7 L510.5 199.4 L511.8 200.1 L513.1 200.8 L514.4 201.5 L515.7 202.3 L517.1 203.0 L518.4 203.7 L519.7 204.4 L521.0 205.1 L522.3 205.8 L523.6 206.5 L524.9 207.2 L526.2 207.9 L527.5 208.7 L528.8 209.4 L530.1 210.1 L531.4 210.8 L532.7 211.5 L534.1 212.2 L535.4 212.9 L536.7 213.7 L538.0 214.4 L539.3 215.1 L540.6 215.8 L541.9 216.5 L543.2 217.3 L544.5 218.0 L545.8 218.7 L547.1 219.4 L548.4 220.2 L549.7 220.9 L551.0 221.6 L552.4 222.4 L553.7 223.1 L555.0 223.8 L556.3 224.6 L557.6 225.3 L558.9 226.0 L560.2 226.8 L561.5 227.5 L562.8 228.2 L564.1 229.0 L565.4 229.7 L566.7 230.5 L568.0 231.2 L569.4 231.9 L570.7 232.7 L572.0 233.4 L573.3 234.1 L574.6 234.9 L575.9 235.6 L577.2 236.3 L578.5 237.1 L579.8 237.8 L581.1 238.5 L582.4 239.3 L583.7 240.0 L585.0 240.7 L586.4 241.5 L587.7 242.2 L589.0 242.9 L590.3 243.7 L591.6 244.4 L592.9 245.1 L594.2 245.8 L595.5 246.6 L596.8 247.3 L598.1 248.0 L599.4 248.7 L600.7 249.5 L602.0 250.2 L603.4 250.9 L604.7 251.6 L606.0 252.3 L607.3 253.1 L608.6 253.8 L609.9 254.5 L611.2 255.2 L612.5 255.9 L613.8 256.6 L615.1 257.4 L616.4 258.1 L617.7 258.8 L619.0 259.5 L620.3 260.2 L621.7 260.9 L623.0 261.6 L624.3 262.4 L625.6 263.1 L626.9 263.8 L628.2 264.5 L629.5 265.2 L630.8 265.9 L632.1 266.7 L633.4 267.4 L634.7 268.1 L636.0 268.8 L637.3 269.6 L638.7 270.3 L640.0 271.0 L641.3 271.7 L642.6 272.4 L643.9 273.1 L645.2 273.8 L646.5 274.5" fill="none" stroke="#432f8c" stroke-width="1.1" stroke-dasharray="10.2 3.3" clip-path="url(#cb)"/>
<path d="M386.3 267.3 L387.6 266.5 L388.9 265.8 L390.2 265.1 L391.5 264.4 L392.8 263.7 L394.1 262.9 L395.5 262.2 L396.8 261.5 L398.1 260.8 L399.4 260.1 L400.7 259.4 L402.0 258.7 L403.3 257.9 L404.6 257.2 L405.9 256.5 L407.2 255.8 L408.5 255.1 L409.8 254.4 L411.1 253.7 L412.5 252.9 L413.8 252.2 L415.1 251.5 L416.4 250.8 L417.7 250.1 L419.0 249.3 L420.3 248.6 L421.6 247.9 L422.9 247.2 L424.2 246.4 L425.5 245.7 L426.8 245.0 L428.1 244.3 L429.4 243.5 L430.8 242.8 L432.1 242.1 L433.4 241.3 L434.7 240.6 L436.0 239.9 L437.3 239.1 L438.6 238.4 L439.9 237.7 L441.2 236.9 L442.5 236.2 L443.8 235.5 L445.1 234.7 L446.4 234.0 L447.8 233.3 L449.1 232.5 L450.4 231.8 L451.7 231.1 L453.0 230.3 L454.3 229.6 L455.6 228.9 L456.9 228.1 L458.2 227.4 L459.5 226.6 L460.8 225.9 L462.1 225.2 L463.4 224.4 L464.8 223.7 L466.1 223.0 L467.4 222.2 L468.7 221.5 L470.0 220.8 L471.3 220.0 L472.6 219.3 L473.9 218.6 L475.2 217.9 L476.5 217.1 L477.8 216.4 L479.1 215.7 L480.4 215.0 L481.8 214.3 L483.1 213.5 L484.4 212.8 L485.7 212.1 L487.0 211.4 L488.3 210.7 L489.6 210.0 L490.9 209.2 L492.2 208.5 L493.5 207.8 L494.8 207.1 L496.1 206.4 L497.4 205.7 L498.7 205.0 L500.1 204.3 L501.4 203.6 L502.7 202.8 L504.0 202.1 L505.3 201.4 L506.6 200.7 L507.9 200.0 L509.2 199.3 L510.5 198.6 L511.8 197.9 L513.1 197.2 L514.4 196.5 L515.7 195.8 L517.1 195.1 L518.4 194.4 L519.7 193.7 L521.0 193.0 L522.3 192.3 L523.6 191.6 L524.9 191.0 L526.2 190.3 L527.5 189.7 L528.8 189.0 L530.1 188.4 L531.4 187.7 L532.7 187.1 L534.1 186.5 L535.4 185.8 L536.7 185.2 L538.0 184.6 L539.3 184.0 L540.6 183.3 L541.9 182.7 L543.2 182.1 L544.5 181.5 L545.8 180.9 L547.1 180.3 L548.4 179.7 L549.7 179.1 L551.0 178.5 L552.4 177.9 L553.7 177.3 L555.0 176.7 L556.3 176.2 L557.6 175.6 L558.9 175.1 L560.2 174.5 L561.5 173.9 L562.8 173.4 L564.1 172.9 L565.4 172.3 L566.7 171.8 L568.0 171.3 L569.4 170.8 L570.7 170.4 L572.0 169.9 L573.3 169.4 L574.6 169.0 L575.9 168.5 L577.2 168.1 L578.5 167.7 L579.8 167.3 L581.1 166.9 L582.4 166.6 L583.7 166.3 L585.0 166.0 L586.4 165.7 L587.7 165.5 L589.0 165.2 L590.3 165.0 L591.6 164.8 L592.9 164.6 L594.2 164.4 L595.5 164.3 L596.8 164.2 L598.1 164.0 L599.4 163.9 L600.7 163.9 L602.0 163.8 L603.4 163.8 L604.7 163.7 L606.0 163.7 L607.3 163.7 L608.6 163.7 L609.9 163.8 L611.2 163.8 L612.5 163.9 L613.8 164.0 L615.1 164.1 L616.4 164.3 L617.7 164.5 L619.0 164.7 L620.3 164.9 L621.7 165.2 L623.0 165.5 L624.3 165.8 L625.6 166.2 L626.9 166.6 L628.2 167.0 L629.5 167.4 L630.8 167.9 L632.1 168.4 L633.4 168.9 L634.7 169.4 L636.0 169.9 L637.3 170.3 L638.7 170.8 L640.0 171.3 L641.3 171.8 L642.6 172.4 L643.9 172.9 L645.2 173.4 L646.5 173.9" fill="none" stroke="#8797dc" stroke-width="0.9" stroke-dasharray="1.1 0.9" clip-path="url(#cb)"/>
<g><rect x="414.8" y="107.7" width="4.6" height="4.6" fill="#1fa850"/><rect x="442.5" y="83.1" width="4.6" height="4.6" fill="#1fa850"/><rect x="473.6" y="68.8" width="4.6" height="4.6" fill="#1fa850"/><rect x="507.7" y="68.9" width="4.6" height="4.6" fill="#1fa850"/><rect x="539.8" y="80.5" width="4.6" height="4.6" fill="#1fa850"/><rect x="568.9" y="96.1" width="4.6" height="4.6" fill="#1fa850"/><rect x="590.9" y="112.1" width="4.6" height="4.6" fill="#1fa850"/><rect x="611.0" y="127.6" width="4.6" height="4.6" fill="#1fa850"/><rect x="630.0" y="143.7" width="4.6" height="4.6" fill="#1fa850"/></g>
<g><path d="M417.1 118.4 L420.0 123.6 L414.2 123.6Z" fill="#2a3596"/><path d="M445.2 97.6 L448.1 102.8 L442.3 102.8Z" fill="#2a3596"/><path d="M474.9 81.1 L477.8 86.3 L472.0 86.3Z" fill="#2a3596"/><path d="M506.3 69.0 L509.2 74.3 L503.4 74.3Z" fill="#2a3596"/><path d="M540.5 67.5 L543.4 72.7 L537.6 72.7Z" fill="#2a3596"/><path d="M571.2 80.5 L574.1 85.7 L568.3 85.7Z" fill="#2a3596"/><path d="M612.3 117.2 L615.2 122.4 L609.4 122.4Z" fill="#2a3596"/><path d="M630.0 136.0 L632.9 141.2 L627.1 141.2Z" fill="#2a3596"/></g>
<g><path d="M417.1 128.8 L420.0 123.6 L414.2 123.6Z" fill="#111111"/><path d="M451.2 119.1 L454.1 113.9 L448.3 113.9Z" fill="#111111"/><path d="M485.7 125.1 L488.6 119.9 L482.8 119.9Z" fill="#111111"/><path d="M516.4 138.4 L519.3 133.1 L513.5 133.1Z" fill="#111111"/><path d="M547.1 153.5 L550.0 148.3 L544.2 148.3Z" fill="#111111"/><path d="M573.2 167.9 L576.1 162.7 L570.3 162.7Z" fill="#111111"/><path d="M598.2 182.3 L601.1 177.1 L595.3 177.1Z" fill="#111111"/><path d="M620.3 194.9 L623.2 189.7 L617.4 189.7Z" fill="#111111"/><path d="M642.4 207.6 L645.3 202.3 L639.5 202.3Z" fill="#111111"/></g>
<g><circle cx="417.5" cy="181.6" r="2.9" fill="#f46f22" stroke="#d9421f" stroke-width="0.9"/><circle cx="448.2" cy="164.0" r="2.9" fill="#f46f22" stroke="#d9421f" stroke-width="0.9"/><circle cx="477.9" cy="147.8" r="2.9" fill="#f46f22" stroke="#d9421f" stroke-width="0.9"/><circle cx="508.3" cy="133.0" r="2.9" fill="#f46f22" stroke="#d9421f" stroke-width="0.9"/><circle cx="540.1" cy="120.3" r="2.9" fill="#f46f22" stroke="#d9421f" stroke-width="0.9"/><circle cx="574.2" cy="116.4" r="2.9" fill="#f46f22" stroke="#d9421f" stroke-width="0.9"/><circle cx="602.9" cy="126.2" r="2.9" fill="#f46f22" stroke="#d9421f" stroke-width="0.9"/><circle cx="624.3" cy="141.5" r="2.9" fill="#f46f22" stroke="#d9421f" stroke-width="0.9"/><circle cx="642.4" cy="157.3" r="2.9" fill="#f46f22" stroke="#d9421f" stroke-width="0.9"/></g>
<g><path d="M425.1 161.2 L428.4 164.4 L425.1 167.7 L421.9 164.4Z" fill="#1d1248"/><path d="M458.6 170.9 L461.9 174.2 L458.6 177.4 L455.4 174.2Z" fill="#1d1248"/><path d="M489.7 185.3 L492.9 188.5 L489.7 191.8 L486.4 188.5Z" fill="#1d1248"/><path d="M519.4 201.0 L522.6 204.2 L519.4 207.5 L516.1 204.2Z" fill="#1d1248"/><path d="M549.1 217.3 L552.4 220.5 L549.1 223.8 L545.9 220.5Z" fill="#1d1248"/><path d="M575.6 232.2 L578.9 235.4 L575.6 238.7 L572.4 235.4Z" fill="#1d1248"/><path d="M598.2 244.8 L601.5 248.1 L598.2 251.3 L595.0 248.1Z" fill="#1d1248"/><path d="M622.3 258.0 L625.5 261.3 L622.3 264.5 L619.0 261.3Z" fill="#1d1248"/><path d="M644.0 269.9 L647.2 273.2 L644.0 276.4 L640.8 273.2Z" fill="#1d1248"/></g>
<g><path d="M414.2 250.4 L419.4 247.5 L419.4 253.3Z" fill="#1f8fd8"/><path d="M444.9 233.2 L450.1 230.3 L450.1 236.1Z" fill="#1f8fd8"/><path d="M474.8 216.5 L480.0 213.6 L480.0 219.4Z" fill="#1f8fd8"/><path d="M505.0 200.0 L510.2 197.1 L510.2 202.9Z" fill="#1f8fd8"/><path d="M535.2 184.5 L540.4 181.6 L540.4 187.4Z" fill="#1f8fd8"/><path d="M565.3 171.3 L570.5 168.4 L570.5 174.2Z" fill="#1f8fd8"/><path d="M599.0 163.8 L604.2 160.9 L604.2 166.7Z" fill="#1f8fd8"/><path d="M632.5 169.6 L637.7 166.7 L637.7 172.5Z" fill="#1f8fd8"/></g>
<rect x="40.3" y="38.2" width="259.9" height="237.2" fill="none" stroke="#1c1c1c" stroke-width="1.6"/>
<rect x="386.3" y="38.2" width="259.90000000000003" height="237.2" fill="none" stroke="#1c1c1c" stroke-width="1.6"/>
<path d="M105.27 275.4 v-6 M170.25 275.4 v-6 M235.22 275.4 v-6" stroke="#1c1c1c" stroke-width="1.4" fill="none"/>
<path d="M59.86 275.4 v-3 M71.30 275.4 v-3 M79.42 275.4 v-3 M85.72 275.4 v-3 M90.86 275.4 v-3 M95.21 275.4 v-3 M98.98 275.4 v-3 M102.30 275.4 v-3 M124.83 275.4 v-3 M136.28 275.4 v-3 M144.39 275.4 v-3 M150.69 275.4 v-3 M155.84 275.4 v-3 M160.19 275.4 v-3 M163.95 275.4 v-3 M167.28 275.4 v-3 M189.81 275.4 v-3 M201.25 275.4 v-3 M209.37 275.4 v-3 M215.67 275.4 v-3 M220.81 275.4 v-3 M225.16 275.4 v-3 M228.93 275.4 v-3 M232.25 275.4 v-3 M254.78 275.4 v-3 M266.23 275.4 v-3 M274.34 275.4 v-3 M280.64 275.4 v-3 M285.79 275.4 v-3 M290.14 275.4 v-3 M293.90 275.4 v-3 M297.23 275.4 v-3" stroke="#1c1c1c" stroke-width="0.8" fill="none"/>
<path d="M451.28 275.4 v-6 M516.25 275.4 v-6 M581.23 275.4 v-6" stroke="#1c1c1c" stroke-width="1.4" fill="none"/>
<path d="M405.86 275.4 v-3 M417.30 275.4 v-3 M425.42 275.4 v-3 M431.72 275.4 v-3 M436.86 275.4 v-3 M441.21 275.4 v-3 M444.98 275.4 v-3 M448.30 275.4 v-3 M470.83 275.4 v-3 M482.28 275.4 v-3 M490.39 275.4 v-3 M496.69 275.4 v-3 M501.84 275.4 v-3 M506.19 275.4 v-3 M509.95 275.4 v-3 M513.28 275.4 v-3 M535.81 275.4 v-3 M547.25 275.4 v-3 M555.37 275.4 v-3 M561.67 275.4 v-3 M566.81 275.4 v-3 M571.16 275.4 v-3 M574.93 275.4 v-3 M578.25 275.4 v-3 M600.78 275.4 v-3 M612.23 275.4 v-3 M620.34 275.4 v-3 M626.64 275.4 v-3 M631.79 275.4 v-3 M636.14 275.4 v-3 M639.90 275.4 v-3 M643.23 275.4 v-3" stroke="#1c1c1c" stroke-width="0.8" fill="none"/>
<path d="M40.3 57.95 h6 M40.3 96.85 h6 M40.3 135.75 h6 M40.3 174.65 h6 M40.3 213.55 h6 M40.3 252.45 h6" stroke="#1c1c1c" stroke-width="1.4" fill="none"/>
<path d="M386.3 79.90 h6 M386.3 121.60 h6 M386.3 163.30 h6 M386.3 205.00 h6 M386.3 246.70 h6" stroke="#1c1c1c" stroke-width="1.4" fill="none"/>
<path d="M386.3 67.35 h3 M386.3 60.00 h3 M386.3 54.79 h3 M386.3 50.75 h3 M386.3 47.45 h3 M386.3 44.66 h3 M386.3 42.24 h3 M386.3 40.11 h3 M386.3 109.05 h3 M386.3 101.70 h3 M386.3 96.49 h3 M386.3 92.45 h3 M386.3 89.15 h3 M386.3 86.36 h3 M386.3 83.94 h3 M386.3 81.81 h3 M386.3 150.75 h3 M386.3 143.40 h3 M386.3 138.19 h3 M386.3 134.15 h3 M386.3 130.85 h3 M386.3 128.06 h3 M386.3 125.64 h3 M386.3 123.51 h3 M386.3 192.45 h3 M386.3 185.10 h3 M386.3 179.89 h3 M386.3 175.85 h3 M386.3 172.55 h3 M386.3 169.76 h3 M386.3 167.34 h3 M386.3 165.21 h3 M386.3 234.15 h3 M386.3 226.80 h3 M386.3 221.59 h3 M386.3 217.55 h3 M386.3 214.25 h3 M386.3 211.46 h3 M386.3 209.04 h3 M386.3 206.91 h3 M386.3 268.50 h3 M386.3 263.29 h3 M386.3 259.25 h3 M386.3 255.95 h3 M386.3 253.16 h3 M386.3 250.74 h3 M386.3 248.61 h3" stroke="#1c1c1c" stroke-width="0.8" fill="none"/>
<text x="36.3" y="62.2" text-anchor="end" font-family="'Liberation Serif', serif" font-weight="bold" font-size="12.2" letter-spacing="-0.35" fill="#111">10<tspan font-size="7.3" dy="-4.9" dx="0.15" letter-spacing="-0.35">-1</tspan></text>
<text x="36.3" y="101.0" text-anchor="end" font-family="'Liberation Serif', serif" font-weight="bold" font-size="12.2" letter-spacing="-0.35" fill="#111">10<tspan font-size="7.3" dy="-4.9" dx="0.15" letter-spacing="-0.35">-3</tspan></text>
<text x="36.3" y="139.9" text-anchor="end" font-family="'Liberation Serif', serif" font-weight="bold" font-size="12.2" letter-spacing="-0.35" fill="#111">10<tspan font-size="7.3" dy="-4.9" dx="0.15" letter-spacing="-0.35">-5</tspan></text>
<text x="36.3" y="178.8" text-anchor="end" font-family="'Liberation Serif', serif" font-weight="bold" font-size="12.2" letter-spacing="-0.35" fill="#111">10<tspan font-size="7.3" dy="-4.9" dx="0.15" letter-spacing="-0.35">-7</tspan></text>
<text x="36.3" y="217.7" text-anchor="end" font-family="'Liberation Serif', serif" font-weight="bold" font-size="12.2" letter-spacing="-0.35" fill="#111">10<tspan font-size="7.3" dy="-4.9" dx="0.15" letter-spacing="-0.35">-9</tspan></text>
<text x="36.3" y="256.6" text-anchor="end" font-family="'Liberation Serif', serif" font-weight="bold" font-size="12.2" letter-spacing="-0.35" fill="#111">10<tspan font-size="7.3" dy="-4.9" dx="0.15" letter-spacing="-0.35">-11</tspan></text>
<text x="382.2" y="42.4" text-anchor="end" font-family="'Liberation Serif', serif" font-weight="bold" font-size="12.2" letter-spacing="-0.35" fill="#111">10<tspan font-size="7.3" dy="-4.9" dx="0.15" letter-spacing="-0.35">0</tspan></text>
<text x="382.2" y="84.1" text-anchor="end" font-family="'Liberation Serif', serif" font-weight="bold" font-size="12.2" letter-spacing="-0.35" fill="#111">10<tspan font-size="7.3" dy="-4.9" dx="0.15" letter-spacing="-0.35">-1</tspan></text>
<text x="382.2" y="125.8" text-anchor="end" font-family="'Liberation Serif', serif" font-weight="bold" font-size="12.2" letter-spacing="-0.35" fill="#111">10<tspan font-size="7.3" dy="-4.9" dx="0.15" letter-spacing="-0.35">-2</tspan></text>
<text x="382.2" y="167.5" text-anchor="end" font-family="'Liberation Serif', serif" font-weight="bold" font-size="12.2" letter-spacing="-0.35" fill="#111">10<tspan font-size="7.3" dy="-4.9" dx="0.15" letter-spacing="-0.35">-3</tspan></text>
<text x="382.2" y="209.2" text-anchor="end" font-family="'Liberation Serif', serif" font-weight="bold" font-size="12.2" letter-spacing="-0.35" fill="#111">10<tspan font-size="7.3" dy="-4.9" dx="0.15" letter-spacing="-0.35">-4</tspan></text>
<text x="382.2" y="250.9" text-anchor="end" font-family="'Liberation Serif', serif" font-weight="bold" font-size="12.2" letter-spacing="-0.35" fill="#111">10<tspan font-size="7.3" dy="-4.9" dx="0.15" letter-spacing="-0.35">-5</tspan></text>
<text x="31.2" y="289.9" text-anchor="start" font-family="'Liberation Serif', serif" font-weight="bold" font-size="12.2" letter-spacing="-0.35" fill="#111">10<tspan font-size="7.3" dy="-4.9" dx="0.15" letter-spacing="-0.35">-2</tspan></text>
<text x="96.2" y="289.9" text-anchor="start" font-family="'Liberation Serif', serif" font-weight="bold" font-size="12.2" letter-spacing="-0.35" fill="#111">10<tspan font-size="7.3" dy="-4.9" dx="0.15" letter-spacing="-0.35">-1</tspan></text>
<text x="227.7" y="289.9" text-anchor="start" font-family="'Liberation Serif', serif" font-weight="bold" font-size="12.2" letter-spacing="-0.35" fill="#111">10<tspan font-size="7.3" dy="-4.9" dx="0.15" letter-spacing="-0.35">1</tspan></text>
<text x="292.7" y="289.9" text-anchor="start" font-family="'Liberation Serif', serif" font-weight="bold" font-size="12.2" letter-spacing="-0.35" fill="#111">10<tspan font-size="7.3" dy="-4.9" dx="0.15" letter-spacing="-0.35">2</tspan></text>
<text x="160.3" y="290.0" font-family="'Liberation Sans', sans-serif" font-weight="bold" font-size="12" fill="#111">2<tspan font-size="7.4" dy="-4.6">-1/3</tspan></text>
<text x="377.2" y="289.9" text-anchor="start" font-family="'Liberation Serif', serif" font-weight="bold" font-size="12.2" letter-spacing="-0.35" fill="#111">10<tspan font-size="7.3" dy="-4.9" dx="0.15" letter-spacing="-0.35">-2</tspan></text>
<text x="442.2" y="289.9" text-anchor="start" font-family="'Liberation Serif', serif" font-weight="bold" font-size="12.2" letter-spacing="-0.35" fill="#111">10<tspan font-size="7.3" dy="-4.9" dx="0.15" letter-spacing="-0.35">-1</tspan></text>
<text x="573.7" y="289.9" text-anchor="start" font-family="'Liberation Serif', serif" font-weight="bold" font-size="12.2" letter-spacing="-0.35" fill="#111">10<tspan font-size="7.3" dy="-4.9" dx="0.15" letter-spacing="-0.35">1</tspan></text>
<text x="638.7" y="289.9" text-anchor="start" font-family="'Liberation Serif', serif" font-weight="bold" font-size="12.2" letter-spacing="-0.35" fill="#111">10<tspan font-size="7.3" dy="-4.9" dx="0.15" letter-spacing="-0.35">2</tspan></text>
<text x="506.4" y="290.0" font-family="'Liberation Sans', sans-serif" font-weight="bold" font-size="12" fill="#111">2<tspan font-size="7.4" dy="-4.6">-1/3</tspan></text>
<text x="170" y="303.6" text-anchor="middle" font-family="'Liberation Serif', serif" font-weight="bold" font-size="13.6" fill="#111">Diameter Ratio (<tspan font-weight="normal" font-size="13">α</tspan>)</text>
<text x="516.3" y="303.6" text-anchor="middle" font-family="'Liberation Serif', serif" font-weight="bold" font-size="13.9" fill="#111">Length Ratio (<tspan font-weight="normal" font-size="13.3">β</tspan>)</text>
<text x="54.3" y="57.4" font-family="'Liberation Serif', serif" font-weight="bold" font-size="13" fill="#111">(a)</text>
<text x="401" y="57.3" font-family="'Liberation Serif', serif" font-weight="bold" font-size="13" fill="#111">(b)</text>
<text transform="translate(13.0 157.2) rotate(-90)" text-anchor="middle" font-family="'Liberation Serif', serif" font-weight="bold" font-style="italic" font-size="15" letter-spacing="-0.8" stroke="#111" stroke-width="0.25" fill="#111">Ev</text>
<text transform="translate(359.0 156.8) rotate(-90)" text-anchor="middle" font-family="'Liberation Serif', serif" font-weight="bold" font-style="italic" font-size="15" letter-spacing="-0.8" stroke="#111" stroke-width="0.25" fill="#111">Ev</text>
<rect x="224" y="21.2" width="111.80000000000001" height="73.39999999999999" fill="#fff" stroke="#444" stroke-width="1.1"/>
<path d="M227.2 34.5 H272.7" stroke="#bf3830" stroke-width="1.1" fill="none"/>
<text x="281" y="38.4" font-family="'Liberation Serif', serif" font-weight="bold" font-size="9.3" letter-spacing="0.25" fill="#111" stroke="#111" stroke-width="0.28"><tspan font-weight="normal" font-size="10.8" stroke-width="0.2">β</tspan><tspan dx="-0.9"> =2</tspan><tspan font-family="'Liberation Sans', sans-serif" font-weight="bold" font-size="5.8" dy="-4.7" stroke-width="0.15">-1/3</tspan></text>
<path d="M227.2 48.5 H272.7" stroke="#1c9f56" stroke-width="1.15" stroke-dasharray="6.7 6.3" fill="none"/>
<rect x="247.7" y="46.2" width="4.6" height="4.6" fill="#1fa850"/>
<text x="281" y="51.7" font-family="'Liberation Serif', serif" font-weight="bold" font-size="9.3" letter-spacing="0.25" fill="#111" stroke="#111" stroke-width="0.28"><tspan font-weight="normal" font-size="10.8" stroke-width="0.2">β</tspan><tspan dx="-0.9"> =10*2</tspan><tspan font-family="'Liberation Sans', sans-serif" font-weight="bold" font-size="5.8" dy="-4.7" stroke-width="0.15">-1/3</tspan></text>
<path d="M227.2 61.5 H272.7" stroke="#2c3794" stroke-width="1.15" fill="none"/>
<path d="M250.0 58.6 L252.9 63.8 L247.1 63.8Z" fill="#2a3596"/>
<text x="281" y="65.0" font-family="'Liberation Serif', serif" font-weight="bold" font-size="9.3" letter-spacing="0.25" fill="#111" stroke="#111" stroke-width="0.28"><tspan font-weight="normal" font-size="10.8" stroke-width="0.2">β</tspan><tspan dx="-0.9"> =0.1*2</tspan><tspan font-family="'Liberation Sans', sans-serif" font-weight="bold" font-size="5.8" dy="-4.7" stroke-width="0.15">-1/3</tspan></text>
<path d="M227.2 74.5 H272.7" stroke="#111111" stroke-width="1.15" stroke-dasharray="6.7 2.3 1.7 2.3" fill="none"/>
<path d="M250.0 77.4 L252.9 72.2 L247.1 72.2Z" fill="#111111"/>
<text x="281" y="78.3" font-family="'Liberation Serif', serif" font-weight="bold" font-size="9.3" letter-spacing="0.25" fill="#111" stroke="#111" stroke-width="0.28"><tspan font-weight="normal" font-size="10.8" stroke-width="0.2">β</tspan><tspan dx="-0.9"> =100*2</tspan><tspan font-family="'Liberation Sans', sans-serif" font-weight="bold" font-size="5.8" dy="-4.7" stroke-width="0.15">-1/3</tspan></text>
<path d="M227.2 87.5 H272.7" stroke="#dc4529" stroke-width="1.1" fill="none"/>
<circle cx="250.0" cy="87.5" r="2.9" fill="#f46f22" stroke="#d9421f" stroke-width="0.9"/>
<text x="281" y="91.6" font-family="'Liberation Serif', serif" font-weight="bold" font-size="9.3" letter-spacing="0.25" fill="#111" stroke="#111" stroke-width="0.28"><tspan font-weight="normal" font-size="10.8" stroke-width="0.2">β</tspan><tspan dx="-0.9"> =0.01*2</tspan><tspan font-family="'Liberation Sans', sans-serif" font-weight="bold" font-size="5.8" dy="-4.7" stroke-width="0.15">-1/3</tspan></text>
<rect x="579.2" y="3.2" width="107.09999999999991" height="99.39999999999999" fill="#fff" stroke="#444" stroke-width="1.1"/>
<path d="M582.2 16.5 H628" stroke="#bf3830" stroke-width="1.1" fill="none"/>
<text x="636" y="20.0" font-family="'Liberation Serif', serif" font-weight="bold" font-size="9.3" letter-spacing="0.25" fill="#111" stroke="#111" stroke-width="0.28"><tspan font-weight="normal" font-size="10.8" stroke-width="0.2">α</tspan><tspan dx="-0.9"> =2</tspan><tspan font-family="'Liberation Sans', sans-serif" font-weight="bold" font-size="5.8" dy="-4.7" stroke-width="0.15">-1/3</tspan></text>
<path d="M582.2 29.5 H628" stroke="#1c9f56" stroke-width="1.15" stroke-dasharray="6.7 6.3" fill="none"/>
<rect x="602.6" y="27.2" width="4.6" height="4.6" fill="#1fa850"/>
<text x="636" y="33.2" font-family="'Liberation Serif', serif" font-weight="bold" font-size="9.3" letter-spacing="0.25" fill="#111" stroke="#111" stroke-width="0.28"><tspan font-weight="normal" font-size="10.8" stroke-width="0.2">α</tspan><tspan dx="-0.9"> =2*2</tspan><tspan font-family="'Liberation Sans', sans-serif" font-weight="bold" font-size="5.8" dy="-4.7" stroke-width="0.15">-1/3</tspan></text>
<path d="M582.2 42.5 H628" stroke="#2c3794" stroke-width="1.15" fill="none"/>
<path d="M604.9 39.6 L607.8 44.8 L602.0 44.8Z" fill="#2a3596"/>
<text x="636" y="46.4" font-family="'Liberation Serif', serif" font-weight="bold" font-size="9.3" letter-spacing="0.25" fill="#111" stroke="#111" stroke-width="0.28"><tspan font-weight="normal" font-size="10.8" stroke-width="0.2">α</tspan><tspan dx="-0.9"> =1/2*2</tspan><tspan font-family="'Liberation Sans', sans-serif" font-weight="bold" font-size="5.8" dy="-4.7" stroke-width="0.15">-1/3</tspan></text>
<path d="M582.2 55.5 H628" stroke="#111111" stroke-width="1.15" stroke-dasharray="6.7 2.3 1.7 2.3" fill="none"/>
<path d="M604.9 58.4 L607.8 53.2 L602.0 53.2Z" fill="#111111"/>
<text x="636" y="59.6" font-family="'Liberation Serif', serif" font-weight="bold" font-size="9.3" letter-spacing="0.25" fill="#111" stroke="#111" stroke-width="0.28"><tspan font-weight="normal" font-size="10.8" stroke-width="0.2">α</tspan><tspan dx="-0.9"> =4*2</tspan><tspan font-family="'Liberation Sans', sans-serif" font-weight="bold" font-size="5.8" dy="-4.7" stroke-width="0.15">-1/3</tspan></text>
<path d="M582.2 69.5 H628" stroke="#dc4529" stroke-width="1.1" fill="none"/>
<circle cx="604.9" cy="69.5" r="2.9" fill="#f46f22" stroke="#d9421f" stroke-width="0.9"/>
<text x="636" y="72.8" font-family="'Liberation Serif', serif" font-weight="bold" font-size="9.3" letter-spacing="0.25" fill="#111" stroke="#111" stroke-width="0.28"><tspan font-weight="normal" font-size="10.8" stroke-width="0.2">α</tspan><tspan dx="-0.9"> =1/4*2</tspan><tspan font-family="'Liberation Sans', sans-serif" font-weight="bold" font-size="5.8" dy="-4.7" stroke-width="0.15">-1/3</tspan></text>
<path d="M582.2 82.5 H628" stroke="#432f8c" stroke-width="1.1" stroke-dasharray="10.2 3.3" fill="none"/>
<path d="M604.9 79.2 L608.1 82.5 L604.9 85.8 L601.6 82.5Z" fill="#1d1248"/>
<text x="636" y="86.0" font-family="'Liberation Serif', serif" font-weight="bold" font-size="9.3" letter-spacing="0.25" fill="#111" stroke="#111" stroke-width="0.28"><tspan font-weight="normal" font-size="10.8" stroke-width="0.2">α</tspan><tspan dx="-0.9"> =8*2</tspan><tspan font-family="'Liberation Sans', sans-serif" font-weight="bold" font-size="5.8" dy="-4.7" stroke-width="0.15">-1/3</tspan></text>
<path d="M582.2 95.5 H628" stroke="#8797dc" stroke-width="0.9" stroke-dasharray="1.1 0.9" fill="none"/>
<path d="M602.0 95.5 L607.2 92.6 L607.2 98.4Z" fill="#1f8fd8"/>
<text x="636" y="99.2" font-family="'Liberation Serif', serif" font-weight="bold" font-size="9.3" letter-spacing="0.25" fill="#111" stroke="#111" stroke-width="0.28"><tspan font-weight="normal" font-size="10.8" stroke-width="0.2">α</tspan><tspan dx="-0.9"> =1/8*2</tspan><tspan font-family="'Liberation Sans', sans-serif" font-weight="bold" font-size="5.8" dy="-4.7" stroke-width="0.15">-1/3</tspan></text>
</svg>
</body></html>
